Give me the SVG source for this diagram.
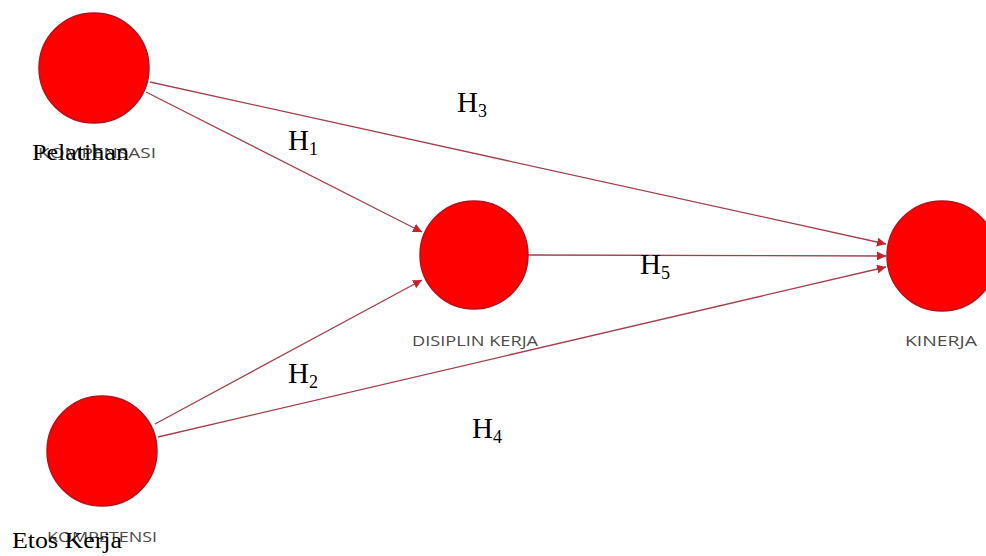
<svg xmlns="http://www.w3.org/2000/svg" width="986" height="556" viewBox="0 0 986 556">
<defs>
<marker id="arr" viewBox="0 0 10 10" refX="10" refY="5" markerWidth="9" markerHeight="9" markerUnits="userSpaceOnUse" orient="auto">
<path d="M0,0 L10,5 L0,10 z" fill="#c8202e"/>
</marker>
</defs>
<style>
.node{fill:#ff0000;stroke:#b8101a;stroke-width:1.5}
.edge{stroke:#a0404e;stroke-width:1.3;fill:none;marker-end:url(#arr)}
.gl{font-family:"Open Sans","DejaVu Sans",sans-serif;font-size:14px;fill:#4a4a4a;text-anchor:middle}
.bl{font-family:"Liberation Serif","Times New Roman",serif;font-size:24px;fill:#000}
.h{font-family:"Liberation Serif","Times New Roman",serif;font-size:29px;fill:#000}
.sub{font-size:18px}
</style>
<rect width="986" height="556" fill="#fff"/>
<g id="connectors">
<line class="edge" x1="150" y1="82" x2="886" y2="244"/>
<line class="edge" x1="146" y1="92" x2="422" y2="232"/>
<line class="edge" x1="155" y1="424" x2="422" y2="280"/>
<line class="edge" x1="158" y1="437" x2="886" y2="267"/>
<line class="edge" x1="528" y1="255" x2="886" y2="256"/>
</g>
<g id="pelatihan">
<circle class="node" cx="94" cy="68" r="55"/>
<text class="gl" x="97" y="158" textLength="118" lengthAdjust="spacingAndGlyphs">KOMPENSASI</text>
<text class="bl" x="32" y="160" textLength="97" lengthAdjust="spacingAndGlyphs">Pelatihan</text>
</g>
<g id="etos-kerja">
<circle class="node" cx="102" cy="451" r="55"/>
<text class="gl" x="102" y="542" textLength="110" lengthAdjust="spacingAndGlyphs">KOMPETENSI</text>
<text class="bl" x="12" y="548" textLength="110" lengthAdjust="spacingAndGlyphs">Etos Kerja</text>
</g>
<g id="disiplin-kerja">
<circle class="node" cx="474" cy="255" r="54"/>
<text class="gl" x="475" y="346" textLength="126" lengthAdjust="spacingAndGlyphs">DISIPLIN KERJA</text>
</g>
<g id="kinerja">
<circle class="node" cx="942" cy="256" r="55"/>
<text class="gl" x="941" y="346" textLength="72" lengthAdjust="spacingAndGlyphs">KINERJA</text>
</g>
<g id="labels">
<text class="h" x="457" y="112">H<tspan class="sub" dy="5">3</tspan></text>
<text class="h" x="288" y="150">H<tspan class="sub" dy="5">1</tspan></text>
<text class="h" x="640" y="274">H<tspan class="sub" dy="5">5</tspan></text>
<text class="h" x="288" y="383">H<tspan class="sub" dy="5">2</tspan></text>
<text class="h" x="472" y="438">H<tspan class="sub" dy="5">4</tspan></text>
</g>
</svg>
